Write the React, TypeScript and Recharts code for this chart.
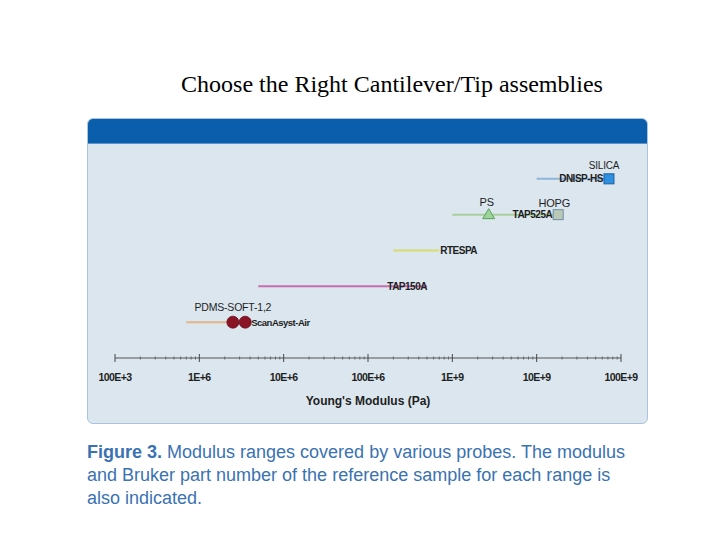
import React from 'react';
import { ScatterChart, Scatter, XAxis, YAxis } from 'recharts';

const TITLE = 'Choose the Right Cantilever/Tip assemblies';
const CAPTION_LINES = [
  'Modulus ranges covered by various probes. The modulus',
  'and Bruker part number of the reference sample for each range is',
  'also indicated.',
];

// axis: decades 1e5 .. 1e11, minor ticks at 2..9 of each decade
const DECADES = [1e5, 1e6, 1e7, 1e8, 1e9, 1e10, 1e11];
const TICK_LABELS = ['100E+3', '1E+6', '10E+6', '100E+6', '1E+9', '10E+9', '100E+9'];
const MINOR_STEPS = [2, 3, 4, 5, 6, 7, 8, 9];

// probe ranges (Pa), row counted from the axis
const PROBE_NAMES = ['DNISP-HS', 'TAP525A', 'RTESPA', 'TAP150A', 'ScanAsyst-Air'];
const PROBE_MIN = [1e10, 1e9, 2e8, 5e6, 7e5];
const PROBE_MAX = [7.2e10, 1.8e10, 7e8, 5e8, 3.5e6];
const PROBE_ROW = [5, 4, 3, 2, 1];

// reference samples (Pa)
const SAMPLE_NAMES = ['SILICA', 'HOPG', 'PS', 'PDMS-SOFT-1', 'PDMS-SOFT-2'];
const SAMPLE_MODULUS = [7.2e10, 1.8e10, 2.7e9, 2.5e6, 3.5e6];
const SAMPLE_ROW = [5, 4, 4, 1, 1];

const SAMPLE_LABELS = ['SILICA', 'HOPG', 'PS', 'PDMS-SOFT-1,2'];
const SAMPLE_LABEL_MODULUS = [7.2e10, 1.8e10, 2.7e9, 2.5e6];
const SAMPLE_LABEL_ROW = [5, 4, 4, 1];

const PROBE_COLORS: Record<string, string> = {
  'DNISP-HS': '#8fb5da',
  TAP525A: '#a9d09c',
  RTESPA: '#d8dc6a',
  TAP150A: '#c86db2',
  'ScanAsyst-Air': '#e3b487',
};

const MARKER_STYLE: Record<string, { shape: string; fill: string; stroke: string }> = {
  SILICA: { shape: 'square', fill: '#2f8fe0', stroke: '#1d5f9e' },
  HOPG: { shape: 'square', fill: '#bac9b6', stroke: '#6f8fa8' },
  PS: { shape: 'triangle', fill: '#9bd39a', stroke: '#5aa35c' },
  'PDMS-SOFT-1': { shape: 'circle', fill: '#8a1426', stroke: '#6a0d1c' },
  'PDMS-SOFT-2': { shape: 'circle', fill: '#8a1426', stroke: '#6a0d1c' },
};

const LABEL_STYLE: Record<
  string,
  { anchor: 'start' | 'middle' | 'end'; dx: number; dy: number; bold: boolean; size: number }
> = {
  'DNISP-HS': { anchor: 'end', dx: -6, dy: 3.5, bold: true, size: 10 },
  TAP525A: { anchor: 'end', dx: -6, dy: 3.5, bold: true, size: 10 },
  RTESPA: { anchor: 'start', dx: 1, dy: 3.5, bold: true, size: 10 },
  TAP150A: { anchor: 'end', dx: 0, dy: 3.5, bold: true, size: 10 },
  'ScanAsyst-Air': { anchor: 'start', dx: 6, dy: 3.5, bold: true, size: 9.5 },
  SILICA: { anchor: 'middle', dx: -5, dy: -10, bold: false, size: 10 },
  HOPG: { anchor: 'middle', dx: -4, dy: -8, bold: false, size: 11 },
  PS: { anchor: 'middle', dx: -2, dy: -9, bold: false, size: 11 },
  'PDMS-SOFT-1,2': { anchor: 'middle', dx: 0, dy: -11, bold: false, size: 10.5 },
};

const FONT = '"Liberation Sans", Arial, sans-serif';

const ticks: number[] = [];
DECADES.forEach((d, i) => {
  ticks.push(d);
  if (i < DECADES.length - 1) MINOR_STEPS.forEach((k) => ticks.push(k * d));
});

const probeSeries = PROBE_NAMES.map((name, i) => ({
  name,
  data: [
    { x: PROBE_MIN[i], y: PROBE_ROW[i] },
    { x: PROBE_MAX[i], y: PROBE_ROW[i] },
  ],
}));

const markerData = SAMPLE_NAMES.map((name, i) => ({
  x: SAMPLE_MODULUS[i],
  y: SAMPLE_ROW[i],
  name,
}));

const labelData = [
  ...PROBE_NAMES.map((name, i) => ({ x: PROBE_MAX[i], y: PROBE_ROW[i], text: name })),
  ...SAMPLE_LABELS.map((name, i) => ({
    x: SAMPLE_LABEL_MODULUS[i],
    y: SAMPLE_LABEL_ROW[i],
    text: name,
  })),
];

const Nothing = () => <g />;

function MarkerShape(props: any) {
  const { cx, cy, payload } = props;
  const st = MARKER_STYLE[payload.name];
  if (st.shape === 'square') {
    return (
      <rect x={cx - 5} y={cy - 5} width={10} height={10} fill={st.fill} stroke={st.stroke} strokeWidth={1} />
    );
  }
  if (st.shape === 'triangle') {
    return (
      <polygon
        points={`${cx},${cy - 6} ${cx + 6},${cy + 4} ${cx - 6},${cy + 4}`}
        fill={st.fill}
        stroke={st.stroke}
        strokeWidth={1}
      />
    );
  }
  return <circle cx={cx} cy={cy} r={6} fill={st.fill} stroke={st.stroke} strokeWidth={0.8} />;
}

function LabelShape(props: any) {
  const { cx, cy, payload } = props;
  const st = LABEL_STYLE[payload.text];
  return (
    <text
      x={cx + st.dx}
      y={cy + st.dy}
      textAnchor={st.anchor}
      fontFamily={FONT}
      fontSize={st.size}
      fontWeight={st.bold ? 700 : 400}
      letterSpacing={st.bold ? -0.5 : -0.2}
      fill="#1e1e1e"
    >
      {payload.text}
    </text>
  );
}

function ModulusTick(props: any) {
  const { x, y, payload } = props;
  const exp = Math.log10(payload.value);
  const major = Math.abs(exp - Math.round(exp)) < 1e-6;
  if (!major) {
    return <line x1={x} x2={x} y1={y - 1.5} y2={y + 1.5} stroke="#666" strokeWidth={1} />;
  }
  return (
    <g>
      <line x1={x} x2={x} y1={y - 4} y2={y + 4} stroke="#444" strokeWidth={1} />
      <text
        x={x}
        y={y + 23}
        textAnchor="middle"
        fontFamily={FONT}
        fontSize={10.5}
        fontWeight={700}
        letterSpacing={-0.6}
        fill="#1e1e1e"
      >
        {TICK_LABELS[Math.round(exp) - 5]}
      </text>
    </g>
  );
}

export default function App() {
  return (
    <div style={{ position: 'absolute', left: 0, top: 0, width: 720, height: 540, background: '#fff' }}>
      <div
        style={{
          position: 'absolute',
          left: 0,
          width: 784,
          top: 71,
          textAlign: 'center',
          fontFamily: '"Liberation Serif", "Times New Roman", serif',
          fontSize: 24,
          lineHeight: '27px',
          color: '#000',
        }}
      >
        {TITLE}
      </div>
      <div
        style={{
          position: 'absolute',
          left: 87,
          top: 118,
          width: 559,
          height: 304,
          background: '#dbe6ee',
          border: '1px solid #a8c4de',
          borderRadius: 6,
          overflow: 'hidden',
        }}
      >
        <div style={{ height: 24, background: '#0b5eac', borderBottom: '1px solid #5d93c8' }} />
      </div>
      <div style={{ position: 'absolute', left: 0, top: 0 }}>
        <ScatterChart width={720} height={540} margin={{ top: 143, right: 99, bottom: 132, left: 115 }}>
          <XAxis
            type="number"
            dataKey="x"
            scale="log"
            domain={[1e5, 1e11]}
            allowDataOverflow
            ticks={ticks}
            interval={0}
            tick={<ModulusTick />}
            tickLine={false}
            tickSize={0}
            tickMargin={0}
            height={50}
            axisLine={{ stroke: '#555', strokeWidth: 1 }}
            label={{
              value: "Young's Modulus (Pa)",
              position: 'insideBottom',
              offset: 3,
              fontFamily: FONT,
              fontSize: 12,
              fontWeight: 700,
              fill: '#1e1e1e',
            }}
          />
          <YAxis type="number" dataKey="y" domain={[0, 6]} hide />
          {probeSeries.map((s) => (
            <Scatter
              key={s.name}
              data={s.data}
              line={{ stroke: PROBE_COLORS[s.name], strokeWidth: 2 }}
              shape={Nothing}
              isAnimationActive={false}
            />
          ))}
          <Scatter data={markerData} shape={MarkerShape} isAnimationActive={false} />
          <Scatter data={labelData} shape={LabelShape} isAnimationActive={false} />
        </ScatterChart>
      </div>
      <div
        style={{
          position: 'absolute',
          left: 87,
          top: 441,
          fontFamily: FONT,
          fontSize: 18,
          lineHeight: '23px',
          color: '#3a72b2',
          whiteSpace: 'nowrap',
        }}
      >
        {CAPTION_LINES.map((line, i) => (
          <div key={i}>
            {i === 0 && <span style={{ fontWeight: 700 }}>Figure 3. </span>}
            {line}
          </div>
        ))}
      </div>
    </div>
  );
}
